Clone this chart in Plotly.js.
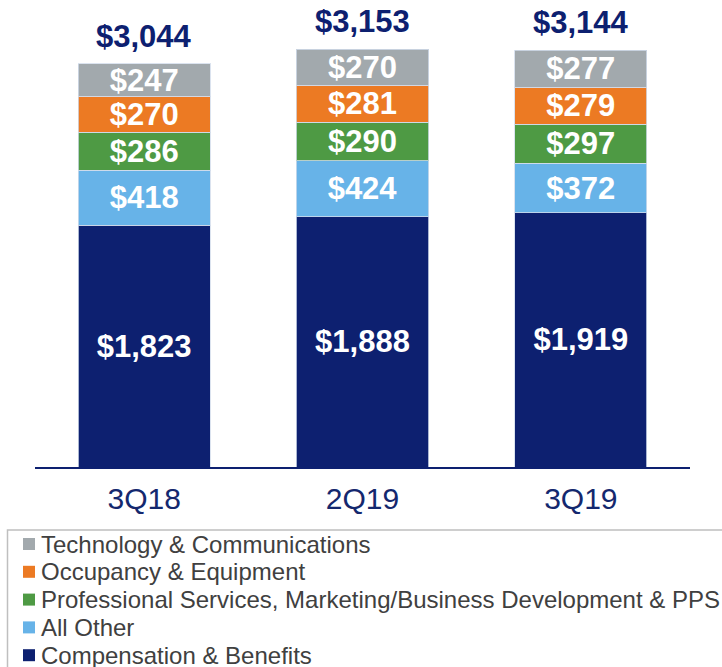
<!DOCTYPE html>
<html>
<head>
<meta charset="utf-8">
<script src="https://cdn.plot.ly/plotly-3.0.1.min.js"></script>
<style>
  html, body { margin: 0; padding: 0; background: #ffffff; }
  #chart { width: 722px; height: 667px; }
</style>
</head>
<body>
<div id="chart"></div>
<script>
const categories = ["3Q18", "2Q19", "3Q19"];
const compensationBenefits = [1823, 1888, 1919];
const allOther = [418, 424, 372];
const professionalServices = [286, 290, 297];
const occupancyEquipment = [270, 281, 279];
const technologyComms = [247, 270, 277];

const seriesNames = [
  "Compensation & Benefits",
  "All Other",
  "Professional Services, Marketing/Business Development & PPS",
  "Occupancy & Equipment",
  "Technology & Communications"
];
const seriesValues = [compensationBenefits, allOther, professionalServices, occupancyEquipment, technologyComms];
const seriesColors = ["#0D2070", "#67B3E8", "#4E9A44", "#EC7A23", "#A2A9AD"];

const totals = categories.map((_, i) => seriesValues.reduce((s, arr) => s + arr[i], 0));

const FONT = "Arial, 'Liberation Sans', sans-serif";

// layout geometry (pixels)
const W = 722, H = 667;
const M = { l: 35, r: 32, t: 0, b: 200 };
const plotW = W - M.l - M.r, plotH = H - M.t - M.b;
const px2x = (px) => (px - M.l) / plotW;
const py2y = (py) => (M.t + plotH - py) / plotH;

const traces = seriesValues.map((vals, k) => ({
  type: "bar",
  name: seriesNames[k],
  x: categories,
  y: vals,
  marker: { color: seriesColors[k], line: { color: "rgba(210,220,235,0.8)", width: 1 } },
  texttemplate: "$%{y:,}",
  textposition: "inside",
  insidetextanchor: "middle",
  textangle: 0,
  constraintext: "none",
  textfont: { family: FONT, size: 31, color: "#ffffff", weight: "bold" },
  hoverinfo: "none",
  showlegend: false
}));

const annotations = categories.map((c, i) => ({
  x: c, y: totals[i], xref: "x", yref: "y",
  text: "<b>$" + totals[i].toLocaleString("en-US") + "</b>",
  showarrow: false, yanchor: "bottom", yshift: 8,
  font: { family: FONT, size: 31, color: "#0D2070" }
}));

// custom legend (top to bottom: reversed stack order)
const legendRowTop = 544, legendRowGap = 27.8;
const shapes = [{
  type: "rect", xref: "paper", yref: "paper",
  x0: px2x(7.5), x1: px2x(740), y0: py2y(530), y1: py2y(700),
  line: { color: "#BFBFBF", width: 1.5 }, fillcolor: "rgba(0,0,0,0)"
}];
const legendOrder = seriesNames.map((_, k) => k).reverse();
legendOrder.forEach((k, row) => {
  const cy = legendRowTop + row * legendRowGap;
  shapes.push({
    type: "rect", xref: "paper", yref: "paper",
    x0: px2x(23), x1: px2x(35), y0: py2y(cy - 6), y1: py2y(cy + 6),
    line: { width: 0 }, fillcolor: seriesColors[k]
  });
  annotations.push({
    xref: "paper", yref: "paper", x: px2x(39), y: py2y(cy),
    xanchor: "left", yanchor: "middle", showarrow: false,
    text: seriesNames[k],
    font: { family: FONT, size: 24, color: "#404040" }
  });
});

const layout = {
  width: W, height: H,
  margin: { l: M.l, r: M.r, t: M.t, b: M.b, autoexpand: false },
  paper_bgcolor: "#ffffff", plot_bgcolor: "#ffffff",
  barmode: "stack",
  bargap: 0.395,
  showlegend: false,
  xaxis: {
    type: "category",
    range: [-0.5, 2.5],
    showline: true, linecolor: "#0D2070", linewidth: 2,
    ticks: "", showgrid: false, zeroline: false,
    tickfont: { family: FONT, size: 30, color: "#14286E" },
    ticklabelstandoff: 4
  },
  yaxis: {
    range: [0, 3525],
    visible: false, showgrid: false, zeroline: false, fixedrange: true
  },
  annotations: annotations,
  shapes: shapes
};

Plotly.newPlot("chart", traces, layout, { displayModeBar: false, staticPlot: true });
</script>
</body>
</html>
